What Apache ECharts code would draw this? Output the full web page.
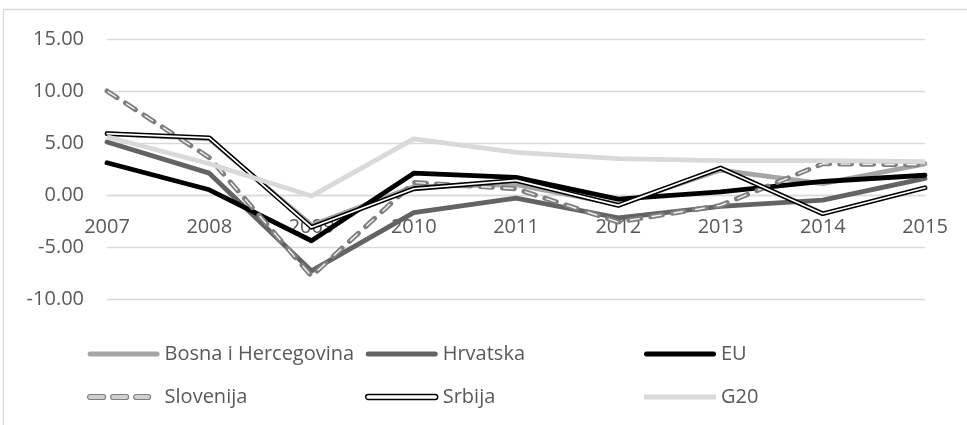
<!DOCTYPE html>
<html>
<head>
<meta charset="utf-8">
<style>
  html, body { margin: 0; padding: 0; background: #fff; }
  #chart { width: 967px; height: 425px; }
</style>
<script src="https://cdn.jsdelivr.net/npm/echarts@6/dist/echarts.min.js"></script>
</head>
<body>
<div id="chart"></div>
<script>
// GDP growth rates (%) by year
const years = ['2007', '2008', '2009', '2010', '2011', '2012', '2013', '2014', '2015'];
const bih      = [5.9, 5.4, -2.9, 0.8, 1.0, -0.9, 2.4, 1.1, 3.0];
const hrvatska = [5.1, 2.1, -7.3, -1.7, -0.3, -2.2, -1.1, -0.5, 1.6];
const eu       = [3.1, 0.5, -4.4, 2.1, 1.7, -0.4, 0.3, 1.3, 1.9];
const slovenija = [10.0, 3.6, -7.8, 1.2, 0.6, -2.6, -1.0, 3.0, 2.9];
const srbija   = [5.9, 5.5, -3.1, 0.6, 1.4, -1.0, 2.6, -1.8, 0.7];
const g20      = [5.6, 3.0, -0.1, 5.4, 4.1, 3.5, 3.3, 3.3, 3.2];
const yTicks = { min: -10, max: 15, interval: 5 };

const FONT = '"Open Sans", "DejaVu Sans", sans-serif';
const TEXT = '#595959';

// plot area
const GRID = { left: 107, right: 42, top: 39, bottom: 126 };
const plotHeight = 425 - GRID.top - GRID.bottom;
// the category axis sits on the value 0 line
const zeroOffset = -plotHeight * (0 - yTicks.min) / (yTicks.max - yTicks.min);

// legend icons (72 x 5 bars)
const barRound = 'path://M2.5,0H69.5A2.5,2.5,0,0,1,69.5,5H2.5A2.5,2.5,0,0,1,2.5,0Z';
const barFlat = 'path://M0,0H72V5H0Z';
const barDashed = 'path://M2.5,0H15.5A2.5,2.5,0,0,1,15.5,5H2.5A2.5,2.5,0,0,1,2.5,0Z' +
  'M25.5,0H38.5A2.5,2.5,0,0,1,38.5,5H25.5A2.5,2.5,0,0,1,25.5,0Z' +
  'M48.5,0H60.5A2.5,2.5,0,0,1,60.5,5H48.5A2.5,2.5,0,0,1,48.5,0Z' +
  'M72,2.5L72,2.5Z';

function lineSeries(name, data, color, width, extra) {
  return {
    name: name,
    type: 'line',
    data: data,
    symbol: 'none',
    showSymbol: false,
    silent: true,
    lineStyle: Object.assign({ color: color, width: width, join: 'round', cap: 'round' }, (extra && extra.lineStyle) || {}),
    itemStyle: { color: color }
  };
}

function legendCol(left, items) {
  return {
    orient: 'vertical',
    left: left,
    top: 339,
    itemWidth: 72,
    itemHeight: 14,
    itemGap: 23,
    itemTextGap: 6,
    selectedMode: false,
    textStyle: { color: TEXT, fontSize: 20, fontFamily: FONT },
    data: items
  };
}

const chart = echarts.init(document.getElementById('chart'), null, { renderer: 'canvas' });
chart.setOption({
  animation: false,
  backgroundColor: '#fff',
  graphic: [{
    type: 'rect',
    silent: true,
    shape: { x: 3.5, y: 9.5, width: 1000, height: 500 },
    style: { fill: 'none', stroke: '#d9d9d9', lineWidth: 1.3 }
  }],
  grid: Object.assign({ containLabel: false }, GRID),
  xAxis: {
    type: 'category',
    data: years,
    boundaryGap: false,
    offset: zeroOffset,
    axisLine: { show: true, onZero: false, lineStyle: { color: '#d9d9d9', width: 1.3 } },
    axisTick: { show: false },
    axisLabel: { color: TEXT, fontSize: 20, fontFamily: FONT, margin: 22 },
    splitLine: { show: false }
  },
  yAxis: {
    type: 'value',
    min: yTicks.min,
    max: yTicks.max,
    interval: yTicks.interval,
    axisLine: { show: false },
    axisTick: { show: false },
    axisLabel: {
      color: TEXT, fontSize: 20, fontFamily: FONT, margin: 23,
      formatter: v => v.toFixed(2)
    },
    splitLine: { lineStyle: { color: '#d9d9d9', width: 1.3 } }
  },
  legend: [
    legendCol(82, [
      { name: 'Bosna i Hercegovina', icon: barRound, itemStyle: { color: '#a5a5a5', borderWidth: 0 } },
      { name: 'Slovenija', icon: barDashed, itemStyle: { color: '#d0d0d0', borderColor: '#7f7f7f', borderWidth: 1.2 } }
    ]),
    legendCol(360, [
      { name: 'Hrvatska', icon: barRound, itemStyle: { color: '#636363', borderWidth: 0 } },
      { name: 'Srbija', icon: barRound, itemStyle: { color: '#ffffff', borderColor: '#000000', borderWidth: 1.4 } }
    ]),
    legendCol(639, [
      { name: 'EU', icon: barRound, itemStyle: { color: '#000000', borderWidth: 0 } },
      { name: 'G20', icon: barFlat, itemStyle: { color: '#d9d9d9', borderWidth: 0 } }
    ])
  ],
  series: [
    lineSeries('Bosna i Hercegovina', bih, '#a5a5a5', 4.8),
    lineSeries('Hrvatska', hrvatska, '#636363', 4.8),
    lineSeries('EU', eu, '#000000', 4.8),
    // Slovenija: dashed compound stroke (grey rim, pale core)
    lineSeries('Slovenija', slovenija, '#7f7f7f', 5, { lineStyle: { type: [12, 10] } }),
    lineSeries('Slovenija core', slovenija, '#f2f2f2', 1.4, { lineStyle: { type: [9, 13], dashOffset: -1.5 } }),
    // Srbija: black double line with white core
    lineSeries('Srbija', srbija, '#000000', 4.8),
    lineSeries('Srbija core', srbija, '#ffffff', 1.7),
    lineSeries('G20', g20, '#d9d9d9', 4.8, { lineStyle: { cap: 'butt' } })
  ]
});
</script>
</body>
</html>
